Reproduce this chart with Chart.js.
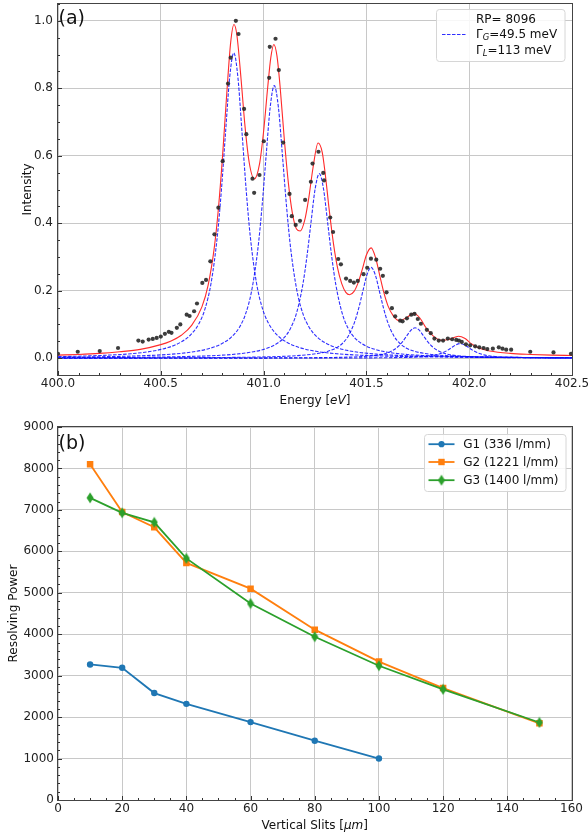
<!DOCTYPE html>
<html>
<head>
<meta charset="utf-8">
<script src="https://cdn.jsdelivr.net/npm/chart.js@4.4.1/dist/chart.umd.min.js"></script>
<style>
html,body{margin:0;padding:0;background:#fff;}
#wrap{position:relative;width:588px;height:836px;overflow:hidden;}
.box{position:absolute;left:0;width:588px;}
</style>
</head>
<body>
<div id="wrap">
  <div class="box" style="top:0;height:415px"><canvas id="c1" width="588" height="415"></canvas></div>
  <div class="box" style="top:415px;height:421px"><canvas id="c2" width="588" height="421"></canvas></div>
</div>
<script>
// ---------------- Panel (a) data ----------------
const energyTicks = [400.0, 400.5, 401.0, 401.5, 402.0, 402.5];
const intensityTicks = [0.0, 0.2, 0.4, 0.6, 0.8, 1.0];

const measE = [400.000,400.096,400.203,400.292,400.391,400.412,400.441,400.461,400.480,400.500,
  400.520,400.539,400.552,400.578,400.595,400.626,400.640,400.662,400.676,400.702,
  400.720,400.741,400.761,400.780,400.801,400.827,400.840,400.865,400.878,400.905,
  400.916,400.946,400.954,400.980,401.001,401.027,401.030,401.058,401.074,401.095,
  401.126,401.137,401.156,401.177,401.202,401.230,401.238,401.267,401.290,401.294,
  401.324,401.338,401.363,401.376,401.401,401.421,401.439,401.458,401.486,401.504,
  401.522,401.548,401.567,401.580,401.598,401.624,401.640,401.664,401.676,401.697,
  401.718,401.734,401.750,401.765,401.794,401.813,401.831,401.852,401.873,401.896,
  401.917,401.937,401.950,401.964,401.984,402.005,402.029,402.049,402.070,402.088,
  402.115,402.144,402.162,402.180,402.204,402.297,402.410,402.495];
const measI = [0.013,0.019,0.021,0.030,0.052,0.049,0.055,0.057,0.060,0.064,
  0.072,0.078,0.075,0.090,0.100,0.129,0.125,0.139,0.162,0.223,
  0.232,0.287,0.367,0.446,0.584,0.814,0.891,1.000,0.961,0.739,
  0.664,0.532,0.490,0.543,0.643,0.831,0.923,0.947,0.854,0.639,
  0.487,0.421,0.395,0.407,0.469,0.523,0.577,0.612,0.549,0.527,
  0.417,0.374,0.294,0.278,0.236,0.229,0.224,0.229,0.249,0.268,
  0.295,0.292,0.265,0.244,0.195,0.148,0.124,0.111,0.109,0.118,
  0.129,0.131,0.116,0.102,0.084,0.074,0.058,0.052,0.052,0.058,
  0.056,0.054,0.052,0.048,0.041,0.038,0.035,0.032,0.030,0.027,
  0.028,0.032,0.028,0.025,0.025,0.019,0.017,0.013];

const fitE = [400.0,400.1,400.2,400.3,400.4,400.5,400.55,400.6,400.65,400.7,400.73,400.76,400.78,400.80,
  400.82,400.84,400.856,400.87,400.89,400.91,400.93,400.955,400.98,401.0,401.02,401.035,401.05,401.065,
  401.08,401.10,401.12,401.14,401.16,401.178,401.20,401.22,401.24,401.265,401.285,401.30,401.32,401.34,
  401.36,401.38,401.40,401.418,401.44,401.46,401.48,401.50,401.523,401.545,401.565,401.585,401.605,
  401.63,401.66,401.695,401.73,401.76,401.79,401.83,401.865,401.905,401.948,401.98,402.01,402.05,
  402.1,402.2,402.3,402.4,402.5];
const fitI = [0.009,0.011,0.014,0.019,0.026,0.040,0.051,0.068,0.097,0.152,0.216,0.327,0.442,0.596,
  0.777,0.937,0.989,0.958,0.830,0.685,0.580,0.531,0.575,0.672,0.803,0.891,0.930,0.896,
  0.807,0.654,0.522,0.430,0.383,0.377,0.409,0.476,0.563,0.638,0.611,0.545,0.435,0.339,
  0.267,0.221,0.195,0.188,0.198,0.224,0.263,0.306,0.327,0.297,0.245,0.194,0.155,
  0.126,0.111,0.120,0.133,0.119,0.090,0.063,0.053,0.056,0.065,0.058,0.043,0.029,
  0.021,0.014,0.011,0.009,0.008];

// fitted components: centres and heights
const peakCenters = [400.855, 401.052, 401.271, 401.523, 401.737, 401.956];
const peakAmps    = [0.905, 0.808, 0.547, 0.269, 0.090, 0.043];
// common line shape of every dashed component (offset in eV, relative height)
const profileOffsets = [-2.0,-1.6,-1.3,-1.0,-0.8,-0.6,-0.5,-0.4,-0.32,-0.26,-0.21,-0.17,-0.14,-0.11,-0.08,-0.06,-0.04,-0.02,0,
  0.02,0.04,0.06,0.08,0.11,0.14,0.17,0.21,0.26,0.32,0.4,0.5,0.6,0.8,1.0,1.3,1.6,2.0];
const profileShape = [0.0009,0.0014,0.0022,0.0037,0.0057,0.0101,0.0145,0.0224,0.0346,0.0513,0.0763,0.1127,0.1613,0.2477,0.400,0.553,0.740,0.920,1.0,
  0.920,0.740,0.553,0.400,0.2477,0.1613,0.1127,0.0763,0.0513,0.0346,0.0224,0.0145,0.0101,0.0057,0.0037,0.0022,0.0014,0.0009];

const legendAText = ['RP= 8096', '=49.5 meV', '=113 meV'];

// ---------------- Panel (b) data ----------------
const slitTicks = [0, 20, 40, 60, 80, 100, 120, 140, 160];
const rpTicks = [0, 1000, 2000, 3000, 4000, 5000, 6000, 7000, 8000, 9000];
const slitsG1 = [10, 20, 30, 40, 60, 80, 100];
const rpG1    = [3270, 3190, 2580, 2320, 1880, 1430, 1000];
const slitsG2 = [10, 20, 30, 40, 60, 80, 100, 120, 150];
const rpG2    = [8100, 6950, 6580, 5720, 5100, 4110, 3340, 2700, 1850];
const slitsG3 = [10, 20, 30, 40, 60, 80, 100, 120, 150];
const rpG3    = [7290, 6930, 6700, 5830, 4740, 3940, 3240, 2670, 1870];
const gratingLabels = ['G1 (336 l/mm)', 'G2 (1221 l/mm)', 'G3 (1400 l/mm)'];
const gratingColors = ['#1f77b4', '#ff7f0e', '#2ca02c'];

// ---------------- helpers ----------------
Chart.defaults.font.family = "'DejaVu Sans', sans-serif";
Chart.defaults.color = '#222';
const FONT = "'DejaVu Sans', sans-serif";
const pairs = (xs, ys) => xs.map((v, i) => ({x: v, y: ys[i]}));

function thinDiamond(color) {
  const c = document.createElement('canvas');
  c.width = 8; c.height = 12;
  const g = c.getContext('2d');
  g.fillStyle = color;
  g.beginPath(); g.moveTo(4, 0.5); g.lineTo(7.5, 6); g.lineTo(4, 11.5); g.lineTo(0.5, 6); g.closePath(); g.fill();
  return c;
}

function runs(ctx, parts, x, y, align) {
  let w = 0;
  parts.forEach(p => { ctx.font = p.f; w += ctx.measureText(p.t).width; });
  let cx = align === 'center' ? x - w / 2 : x;
  ctx.textAlign = 'left';
  parts.forEach(p => { ctx.font = p.f; ctx.fillText(p.t, cx, y + (p.dy || 0)); cx += ctx.measureText(p.t).width; });
}

function frameAndTicks(chart, cfg) {
  const {ctx, chartArea: a, scales: {x, y}} = chart;
  ctx.save();
  ctx.strokeStyle = '#333'; ctx.lineWidth = 1;
  const ln = (x1, y1, x2, y2) => { ctx.beginPath(); ctx.moveTo(x1, y1); ctx.lineTo(x2, y2); ctx.stroke(); };
  const isMajor = (v, arr) => arr.some(t => Math.abs(t - v) < 1e-6);
  const nx = Math.round((x.max - x.min) / cfg.xMinor);
  for (let i = 0; i <= nx; i++) {
    const v = x.min + i * cfg.xMinor;
    const px = Math.round(x.getPixelForValue(v)) + 0.5;
    ln(px, a.bottom, px, a.bottom - (isMajor(v, cfg.xMajor) ? 4 : 2));
  }
  const ny = Math.round((y.max - y.min) / cfg.yMinor);
  for (let i = 0; i <= ny; i++) {
    const v = y.min + i * cfg.yMinor;
    const py = Math.round(y.getPixelForValue(v)) + 0.5;
    ln(a.left, py, a.left + (isMajor(v, cfg.yMajor) ? 4 : 2), py);
  }
  ctx.strokeStyle = '#444';
  ctx.strokeRect(Math.round(a.left) - 0.5, Math.round(a.top) - 0.5, Math.round(a.right - a.left) + 1, Math.round(a.bottom - a.top) + 1);
  ctx.restore();
}

function roundBox(ctx, x, y, w, h, r) {
  ctx.beginPath();
  ctx.moveTo(x + r, y); ctx.lineTo(x + w - r, y); ctx.quadraticCurveTo(x + w, y, x + w, y + r);
  ctx.lineTo(x + w, y + h - r); ctx.quadraticCurveTo(x + w, y + h, x + w - r, y + h);
  ctx.lineTo(x + r, y + h); ctx.quadraticCurveTo(x, y + h, x, y + h - r);
  ctx.lineTo(x, y + r); ctx.quadraticCurveTo(x, y, x + r, y); ctx.closePath();
}

const tickFont = {family: FONT, size: 12};
const gridOpts = {color: '#c8c8c8', lineWidth: 1, drawTicks: false};

// ---------------- Chart (a) ----------------
const compDash = [3.5, 1.5];
const compColor = 'rgba(10,10,255,0.85)';
const componentSets = peakCenters.map((c, k) => ({
  label: 'component ' + (k + 1),
  data: profileOffsets.map((d, i) => ({x: c + d, y: peakAmps[k] * profileShape[i]})),
  showLine: true, borderColor: compColor, borderWidth: 1.1, borderDash: compDash,
  pointRadius: 0, cubicInterpolationMode: 'monotone', order: 2
}));

const plugA = {
  id: 'decorA',
  afterDraw(chart) {
    frameAndTicks(chart, {xMinor: 0.1, xMajor: energyTicks, yMinor: 0.05, yMajor: intensityTicks});
    const ctx = chart.ctx, a = chart.chartArea;
    ctx.save();
    ctx.fillStyle = '#111';
    ctx.textBaseline = 'alphabetic';
    ctx.font = '19px ' + FONT; ctx.textAlign = 'left';
    ctx.fillText('(a)', 58.5, 23.5);
    // x title
    runs(ctx, [{t: 'Energy [', f: '12px ' + FONT}, {t: 'eV', f: 'italic 12px ' + FONT}, {t: ']', f: '12px ' + FONT}],
      (a.left + a.right) / 2, 404, 'center');
    // y title
    ctx.save();
    ctx.translate(31, (a.top + a.bottom) / 2); ctx.rotate(-Math.PI / 2);
    ctx.font = '12px ' + FONT; ctx.textAlign = 'center';
    ctx.fillText('Intensity', 0, 0);
    ctx.restore();
    // legend
    ctx.fillStyle = 'rgba(255,255,255,0.85)'; ctx.strokeStyle = '#d6d6d6'; ctx.lineWidth = 1;
    roundBox(ctx, 436.5, 9.5, 128.5, 52, 3); ctx.fill(); ctx.stroke();
    ctx.strokeStyle = compColor; ctx.lineWidth = 1.1; ctx.setLineDash(compDash);
    ctx.beginPath(); ctx.moveTo(442, 34.5); ctx.lineTo(467, 34.5); ctx.stroke(); ctx.setLineDash([]);
    ctx.fillStyle = '#111';
    runs(ctx, [{t: legendAText[0], f: '12px ' + FONT}], 476, 23.3, 'left');
    runs(ctx, [{t: 'Γ', f: '12px ' + FONT}, {t: 'G', f: 'italic 8.5px ' + FONT, dy: 2}, {t: legendAText[1], f: '12px ' + FONT}], 476, 38, 'left');
    runs(ctx, [{t: 'Γ', f: '12px ' + FONT}, {t: 'L', f: 'italic 8.5px ' + FONT, dy: 2}, {t: legendAText[2], f: '12px ' + FONT}], 476, 53.5, 'left');
    ctx.restore();
  }
};

new Chart(document.getElementById('c1'), {
  type: 'scatter',
  data: {
    datasets: [
      {label: 'data', data: pairs(measE, measI), pointRadius: 2.1, pointBackgroundColor: 'rgba(40,40,40,0.9)', pointBorderWidth: 0, order: 0},
      {label: 'fit', data: pairs(fitE, fitI), showLine: true, borderColor: '#ff2a2a', borderWidth: 1.1, pointRadius: 0, cubicInterpolationMode: 'monotone', order: 1},
      ...componentSets
    ]
  },
  options: {
    responsive: false, animation: false, events: [],
    layout: {padding: {top: 3, right: 16, bottom: 0, left: 0}},
    plugins: {legend: {display: false}, tooltip: {enabled: false}},
    scales: {
      x: {
        type: 'linear', min: 400, max: 402.5,
        grid: gridOpts, border: {display: false},
        ticks: {font: tickFont, color: '#222', padding: 2, maxRotation: 0, callback: v => v.toFixed(1)},
        afterBuildTicks: s => { s.ticks = energyTicks.map(v => ({value: v})); },
        afterFit: s => { s.height = 40; s.paddingLeft = 0; s.paddingRight = 0; }
      },
      y: {
        type: 'linear', min: -0.05, max: 1.05,
        grid: gridOpts, border: {display: false},
        ticks: {font: tickFont, color: '#222', padding: 5, callback: v => v.toFixed(1)},
        afterBuildTicks: s => { s.ticks = intensityTicks.map(v => ({value: v})); },
        afterFit: s => { s.width = 58; s.paddingTop = 0; s.paddingBottom = 0; }
      }
    }
  },
  plugins: [plugA]
});

// ---------------- Chart (b) ----------------
const diamond = thinDiamond(gratingColors[2]);
const plugB = {
  id: 'decorB',
  afterDraw(chart) {
    frameAndTicks(chart, {xMinor: 5, xMajor: slitTicks, yMinor: 200, yMajor: rpTicks});
    const ctx = chart.ctx, a = chart.chartArea;
    ctx.save();
    ctx.fillStyle = '#111'; ctx.textBaseline = 'alphabetic';
    ctx.font = '19px ' + FONT; ctx.textAlign = 'left';
    ctx.fillText('(b)', 58.5, 34);
    runs(ctx, [{t: 'Vertical Slits [', f: '12px ' + FONT}, {t: 'μm', f: 'italic 12px ' + FONT}, {t: ']', f: '12px ' + FONT}],
      (a.left + a.right) / 2, 413.5, 'center');
    ctx.save();
    ctx.translate(17, (a.top + a.bottom) / 2); ctx.rotate(-Math.PI / 2);
    ctx.font = '12px ' + FONT; ctx.textAlign = 'center';
    ctx.fillText('Resolving Power', 0, 0);
    ctx.restore();
    // legend
    ctx.fillStyle = 'rgba(255,255,255,0.85)'; ctx.strokeStyle = '#d6d6d6'; ctx.lineWidth = 1;
    roundBox(ctx, 424.5, 19.5, 141.5, 57, 3); ctx.fill(); ctx.stroke();
    const rows = [29.2, 47, 65.2];
    rows.forEach((ry, i) => {
      ctx.strokeStyle = gratingColors[i]; ctx.lineWidth = 1.8;
      ctx.beginPath(); ctx.moveTo(428.5, ry); ctx.lineTo(454.5, ry); ctx.stroke();
      ctx.fillStyle = gratingColors[i];
      if (i === 0) { ctx.beginPath(); ctx.arc(441.5, ry, 3.1, 0, Math.PI * 2); ctx.fill(); }
      else if (i === 1) { ctx.fillRect(438.3, ry - 3.2, 6.4, 6.4); }
      else { ctx.drawImage(diamond, 441.5 - 4, ry - 6); }
      ctx.fillStyle = '#111';
      runs(ctx, [{t: gratingLabels[i], f: '12px ' + FONT}], 463.3, ry + 4.2, 'left');
    });
    ctx.restore();
  }
};

new Chart(document.getElementById('c2'), {
  type: 'scatter',
  data: {
    datasets: [
      {label: gratingLabels[2], data: pairs(slitsG3, rpG3), showLine: true, borderColor: gratingColors[2], borderWidth: 1.8,
        pointStyle: diamond, pointRadius: 4, pointBackgroundColor: gratingColors[2], pointBorderWidth: 0, order: 0},
      {label: gratingLabels[1], data: pairs(slitsG2, rpG2), showLine: true, borderColor: gratingColors[1], borderWidth: 1.8,
        pointStyle: 'rect', pointRadius: 4.6, pointBackgroundColor: gratingColors[1], pointBorderColor: gratingColors[1], pointBorderWidth: 0, order: 1},
      {label: gratingLabels[0], data: pairs(slitsG1, rpG1), showLine: true, borderColor: gratingColors[0], borderWidth: 1.8,
        pointStyle: 'circle', pointRadius: 3.2, pointBackgroundColor: gratingColors[0], pointBorderWidth: 0, order: 2}
    ]
  },
  options: {
    responsive: false, animation: false, events: [],
    layout: {padding: {top: 12, right: 16.5, bottom: 0, left: 0}},
    plugins: {legend: {display: false}, tooltip: {enabled: false}},
    scales: {
      x: {
        type: 'linear', min: 0, max: 160,
        grid: gridOpts, border: {display: false},
        ticks: {font: tickFont, color: '#222', padding: 1.5, maxRotation: 0, callback: v => String(v)},
        afterBuildTicks: s => { s.ticks = slitTicks.map(v => ({value: v})); },
        afterFit: s => { s.height = 36; s.paddingLeft = 0; s.paddingRight = 0; }
      },
      y: {
        type: 'linear', min: 0, max: 9000,
        grid: gridOpts, border: {display: false},
        ticks: {font: tickFont, color: '#222', padding: 4, callback: v => String(v)},
        afterBuildTicks: s => { s.ticks = rpTicks.map(v => ({value: v})); },
        afterFit: s => { s.width = 58; s.paddingTop = 0; s.paddingBottom = 0; }
      }
    }
  },
  plugins: [plugB]
});
</script>
</body>
</html>
